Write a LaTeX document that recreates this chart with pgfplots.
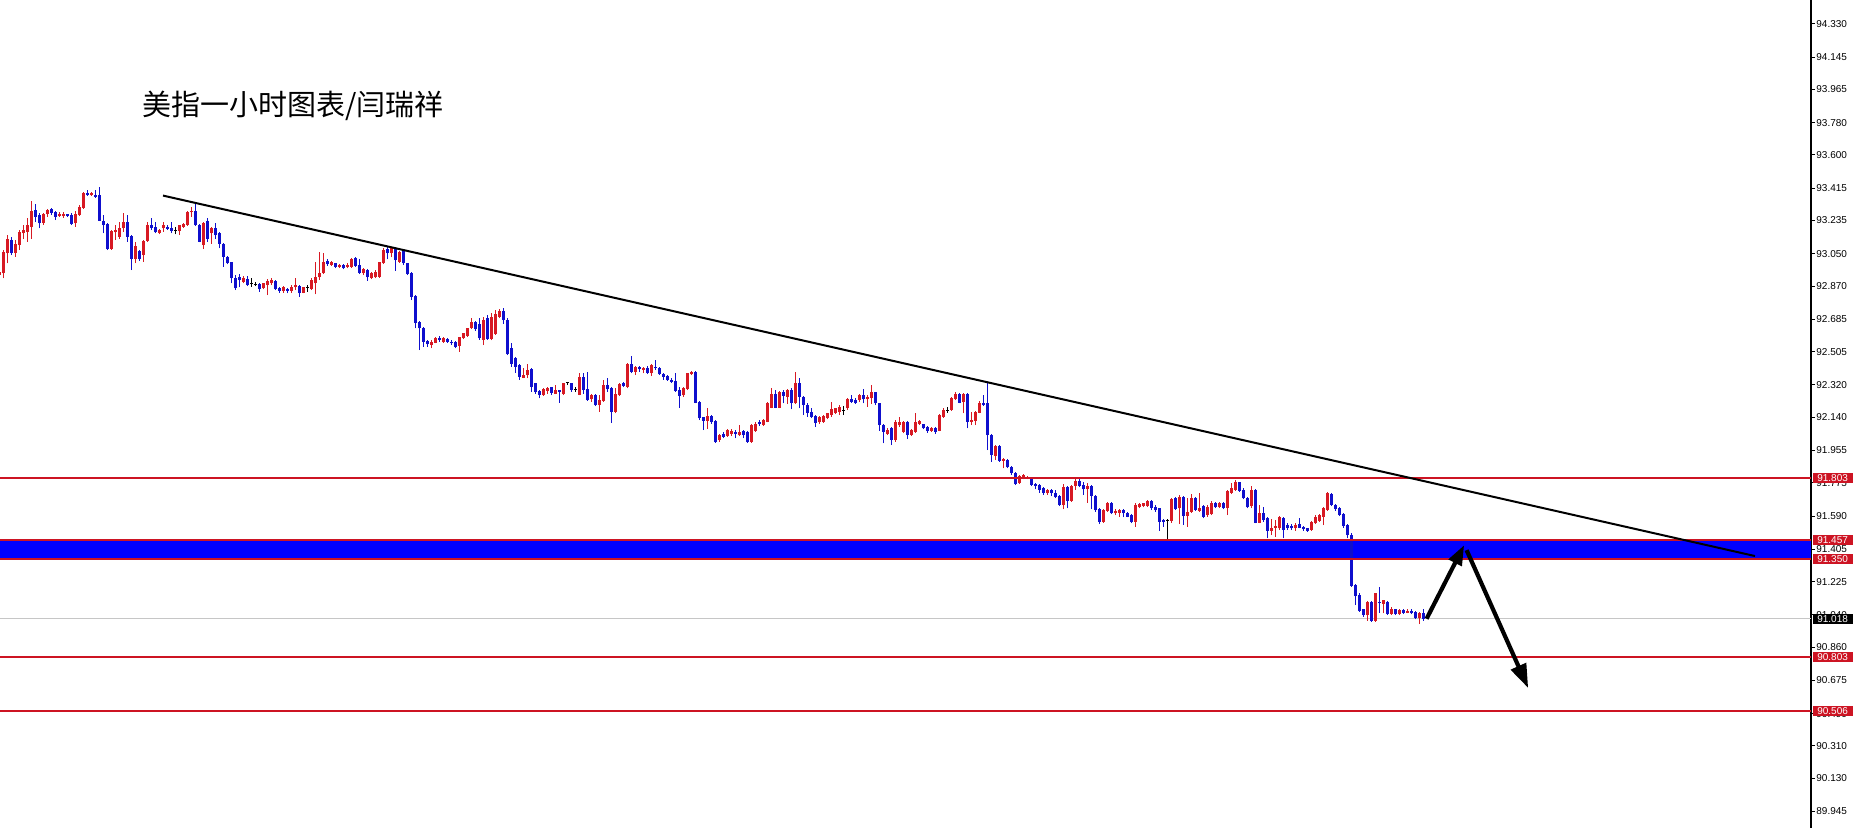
\documentclass[border=0pt]{standalone}
\usepackage{fontspec}
\setmainfont{Liberation Sans}
\newfontfamily\cjk{Noto Sans CJK SC}
\usepackage{pgfplots}
\pgfplotsset{compat=1.18}
\usepackage{pgfplotstable}
\usetikzlibrary{arrows.meta}
\definecolor{cred}{RGB}{215,25,35}
\definecolor{cblue}{RGB}{15,15,205}
\definecolor{lred}{RGB}{205,20,35}
\definecolor{band}{RGB}{0,0,255}
\pgfplotstableread{
i o h l c
0 92.931 92.959 92.913 92.950
1 92.941 93.070 92.913 93.061
2 93.052 93.154 92.996 93.135
3 93.126 93.145 93.043 93.052
4 93.057 93.126 93.033 93.107
5 93.098 93.182 93.070 93.173
6 93.163 93.210 93.135 93.182
7 93.173 93.247 93.117 93.210
8 93.200 93.343 93.135 93.288
9 93.293 93.325 93.228 93.256
10 93.265 93.275 93.191 93.219
11 93.223 93.275 93.213 93.269
12 93.269 93.302 93.256 93.293
13 93.297 93.306 93.265 93.278
14 93.284 93.288 93.237 93.256
15 93.260 93.280 93.254 93.273
16 93.258 93.280 93.250 93.273
17 93.269 93.273 93.254 93.262
18 93.265 93.275 93.210 93.215
19 93.219 93.288 93.200 93.269
20 93.265 93.321 93.262 93.312
21 93.306 93.395 93.302 93.391
22 93.386 93.404 93.373 93.377
23 93.377 93.395 93.373 93.386
24 93.380 93.404 93.362 93.367
25 93.377 93.423 93.232 93.234
26 93.234 93.265 93.163 93.210
27 93.215 93.219 93.070 93.076
28 93.076 93.182 93.072 93.176
29 93.169 93.210 93.126 93.182
30 93.145 93.228 93.135 93.191
31 93.191 93.275 93.173 93.228
32 93.228 93.265 93.117 93.145
33 93.148 93.154 92.959 93.020
34 93.020 93.117 92.996 93.095
35 93.065 93.070 93.009 93.020
36 93.043 93.126 93.005 93.121
37 93.121 93.228 93.117 93.210
38 93.210 93.247 93.182 93.191
39 93.200 93.228 93.163 93.169
40 93.165 93.187 93.158 93.182
41 93.191 93.228 93.173 93.210
42 93.198 93.210 93.182 93.187
43 93.195 93.228 93.163 93.178
44 93.180 93.200 93.158 93.180
45 93.176 93.213 93.154 93.210
46 93.200 93.221 93.195 93.217
47 93.210 93.288 93.206 93.284
48 93.280 93.312 93.256 93.288
49 93.288 93.330 93.206 93.210
50 93.213 93.217 93.113 93.117
51 93.098 93.228 93.076 93.219
52 93.232 93.247 93.117 93.135
53 93.163 93.200 93.107 93.195
54 93.195 93.219 93.135 93.154
55 93.163 93.169 93.080 93.107
56 93.107 93.111 92.978 93.033
57 93.033 93.037 92.991 92.996
58 93.002 93.005 92.885 92.913
59 92.913 92.931 92.848 92.857
60 92.918 92.937 92.863 92.904
61 92.894 92.926 92.885 92.913
62 92.909 92.926 92.870 92.876
63 92.885 92.913 92.866 92.885
64 92.881 92.894 92.870 92.881
65 92.879 92.885 92.839 92.852
66 92.857 92.889 92.852 92.885
67 92.876 92.907 92.820 92.900
68 92.885 92.913 92.876 92.904
69 92.900 92.904 92.848 92.852
70 92.857 92.863 92.833 92.844
71 92.844 92.870 92.833 92.863
72 92.853 92.857 92.829 92.844
73 92.844 92.876 92.833 92.866
74 92.863 92.913 92.848 92.876
75 92.870 92.876 92.811 92.829
76 92.833 92.866 92.829 92.863
77 92.863 92.876 92.839 92.863
78 92.852 92.913 92.848 92.904
79 92.885 93.006 92.824 92.918
80 92.918 93.061 92.904 92.944
81 92.941 93.052 92.937 93.006
82 93.009 93.019 92.983 92.991
83 92.987 93.011 92.982 93.004
84 92.996 93.000 92.969 92.978
85 92.974 92.993 92.969 92.987
86 92.987 92.991 92.963 92.969
87 92.974 92.996 92.969 92.987
88 92.978 93.024 92.972 93.020
89 93.024 93.033 92.978 92.982
90 92.987 93.019 92.937 92.944
91 92.941 92.969 92.931 92.963
92 92.959 92.963 92.900 92.918
93 92.913 92.950 92.907 92.944
94 92.918 92.959 92.913 92.950
95 92.922 93.006 92.917 93.002
96 92.996 93.080 92.993 93.071
97 93.074 93.089 93.019 93.052
98 93.052 93.089 93.030 93.080
99 93.080 93.089 92.956 93.015
100 93.006 93.067 93.000 93.061
101 93.071 93.074 92.987 92.996
102 92.996 93.000 92.931 92.937
103 92.944 92.950 92.792 92.811
104 92.814 92.820 92.634 92.666
105 92.672 92.677 92.514 92.634
106 92.638 92.644 92.532 92.560
107 92.562 92.569 92.532 92.547
108 92.542 92.569 92.523 92.560
109 92.555 92.588 92.551 92.579
110 92.579 92.592 92.560 92.569
111 92.560 92.588 92.555 92.579
112 92.573 92.579 92.555 92.560
113 92.560 92.569 92.542 92.551
114 92.558 92.562 92.523 92.532
115 92.536 92.588 92.504 92.584
116 92.579 92.610 92.573 92.607
117 92.592 92.638 92.588 92.634
118 92.634 92.690 92.629 92.672
119 92.672 92.677 92.622 92.629
120 92.660 92.690 92.570 92.579
121 92.570 92.700 92.541 92.680
122 92.690 92.710 92.570 92.573
123 92.573 92.720 92.568 92.700
124 92.606 92.735 92.598 92.715
125 92.700 92.745 92.690 92.730
126 92.730 92.750 92.660 92.680
127 92.680 92.690 92.486 92.490
128 92.523 92.551 92.421 92.439
129 92.467 92.475 92.387 92.421
130 92.430 92.434 92.350 92.365
131 92.361 92.412 92.356 92.374
132 92.374 92.439 92.356 92.402
133 92.406 92.412 92.282 92.309
134 92.328 92.332 92.272 92.282
135 92.285 92.291 92.245 92.263
136 92.263 92.300 92.259 92.296
137 92.287 92.306 92.272 92.300
138 92.306 92.309 92.263 92.276
139 92.272 92.319 92.269 92.291
140 92.291 92.293 92.220 92.282
141 92.269 92.332 92.263 92.328
142 92.332 92.337 92.319 92.332
143 92.328 92.332 92.282 92.291
144 92.296 92.309 92.282 92.296
145 92.263 92.384 92.261 92.365
146 92.365 92.384 92.272 92.291
147 92.295 92.393 92.232 92.235
148 92.239 92.272 92.226 92.263
149 92.263 92.272 92.202 92.207
150 92.207 92.263 92.170 92.235
151 92.232 92.347 92.226 92.319
152 92.319 92.356 92.282 92.295
153 92.300 92.309 92.109 92.170
154 92.170 92.300 92.161 92.272
155 92.263 92.328 92.258 92.324
156 92.332 92.337 92.306 92.313
157 92.309 92.443 92.300 92.439
158 92.439 92.480 92.384 92.393
159 92.393 92.425 92.374 92.417
160 92.417 92.425 92.393 92.406
161 92.402 92.417 92.384 92.412
162 92.415 92.425 92.380 92.387
163 92.384 92.434 92.369 92.430
164 92.421 92.458 92.402 92.412
165 92.412 92.417 92.374 92.378
166 92.378 92.384 92.350 92.365
167 92.369 92.374 92.343 92.347
168 92.350 92.356 92.332 92.337
169 92.343 92.387 92.282 92.287
170 92.291 92.306 92.194 92.258
171 92.263 92.306 92.254 92.300
172 92.295 92.387 92.291 92.384
173 92.380 92.399 92.374 92.393
174 92.393 92.397 92.217 92.220
175 92.226 92.230 92.124 92.133
176 92.139 92.143 92.068 92.120
177 92.120 92.189 92.077 92.146
178 92.146 92.150 92.105 92.115
179 92.118 92.124 91.998 92.003
180 92.013 92.046 92.003 92.040
181 92.046 92.059 92.022 92.031
182 92.035 92.072 92.031 92.068
183 92.046 92.072 92.035 92.065
184 92.059 92.068 92.022 92.046
185 92.040 92.096 92.035 92.059
186 92.061 92.068 92.022 92.040
187 92.059 92.065 91.998 92.003
188 92.003 92.100 91.998 92.096
189 92.063 92.115 92.059 92.105
190 92.115 92.124 92.092 92.100
191 92.096 92.128 92.091 92.124
192 92.115 92.226 92.111 92.220
193 92.194 92.300 92.189 92.272
194 92.272 92.291 92.189 92.194
195 92.194 92.285 92.189 92.282
196 92.278 92.291 92.217 92.259
197 92.254 92.295 92.213 92.291
198 92.291 92.300 92.183 92.217
199 92.217 92.393 92.213 92.328
200 92.332 92.361 92.189 92.254
201 92.254 92.258 92.152 92.207
202 92.207 92.217 92.142 92.165
203 92.170 92.189 92.133 92.142
204 92.146 92.152 92.087 92.109
205 92.113 92.146 92.105 92.142
206 92.115 92.152 92.109 92.146
207 92.133 92.165 92.128 92.161
208 92.152 92.226 92.142 92.183
209 92.165 92.194 92.157 92.189
210 92.170 92.207 92.152 92.198
211 92.180 92.202 92.152 92.180
212 92.189 92.245 92.180 92.239
213 92.239 92.263 92.220 92.226
214 92.235 92.245 92.213 92.217
215 92.235 92.267 92.226 92.263
216 92.263 92.295 92.217 92.239
217 92.239 92.263 92.198 92.254
218 92.245 92.319 92.213 92.278
219 92.278 92.282 92.207 92.217
220 92.217 92.220 92.065 92.096
221 92.096 92.105 91.994 92.059
222 92.046 92.078 92.040 92.068
223 92.078 92.087 91.985 92.013
224 92.013 92.124 92.003 92.115
225 92.096 92.142 92.087 92.115
226 92.059 92.118 92.050 92.115
227 92.115 92.118 92.018 92.040
228 92.040 92.072 92.035 92.068
229 92.059 92.161 92.053 92.115
230 92.105 92.124 92.096 92.118
231 92.102 92.105 92.072 92.078
232 92.087 92.091 92.053 92.065
233 92.065 92.083 92.059 92.078
234 92.078 92.087 92.046 92.059
235 92.065 92.157 92.061 92.152
236 92.142 92.189 92.137 92.180
237 92.180 92.198 92.165 92.180
238 92.180 92.250 92.176 92.245
239 92.239 92.278 92.235 92.272
240 92.272 92.276 92.217 92.220
241 92.226 92.276 92.161 92.272
242 92.269 92.273 92.078 92.115
243 92.115 92.171 92.096 92.124
244 92.121 92.176 92.096 92.171
245 92.165 92.232 92.161 92.221
246 92.221 92.263 92.202 92.208
247 92.217 92.338 91.957 92.041
248 92.041 92.046 91.892 91.929
249 91.924 91.985 91.902 91.980
250 91.980 91.985 91.892 91.898
251 91.898 91.911 91.855 91.905
252 91.902 91.905 91.855 91.861
253 91.861 91.868 91.818 91.827
254 91.831 91.837 91.762 91.768
255 91.772 91.818 91.768 91.812
256 91.800 91.822 91.794 91.816
257 91.798 91.812 91.794 91.809
258 91.805 91.809 91.757 91.762
259 91.768 91.772 91.738 91.757
260 91.762 91.768 91.720 91.735
261 91.744 91.749 91.707 91.720
262 91.716 91.738 91.707 91.735
263 91.735 91.742 91.701 91.716
264 91.716 91.735 91.688 91.694
265 91.701 91.707 91.645 91.651
266 91.651 91.768 91.627 91.749
267 91.749 91.757 91.632 91.675
268 91.675 91.762 91.670 91.757
269 91.757 91.794 91.735 91.786
270 91.786 91.800 91.749 91.757
271 91.762 91.781 91.707 91.738
272 91.738 91.772 91.664 91.757
273 91.757 91.762 91.627 91.701
274 91.701 91.707 91.614 91.623
275 91.627 91.632 91.545 91.558
276 91.558 91.627 91.553 91.623
277 91.619 91.670 91.614 91.664
278 91.664 91.670 91.601 91.605
279 91.605 91.627 91.595 91.619
280 91.608 91.627 91.586 91.623
281 91.623 91.627 91.582 91.605
282 91.608 91.614 91.582 91.586
283 91.595 91.601 91.549 91.558
284 91.558 91.664 91.530 91.651
285 91.638 91.660 91.632 91.657
286 91.645 91.664 91.638 91.660
287 91.645 91.679 91.642 91.675
288 91.675 91.679 91.623 91.632
289 91.642 91.651 91.614 91.623
290 91.632 91.636 91.508 91.558
291 91.567 91.571 91.530 91.558
292 91.567 91.571 91.460 91.567
293 91.564 91.688 91.553 91.683
294 91.688 91.697 91.623 91.627
295 91.632 91.707 91.545 91.694
296 91.694 91.701 91.540 91.590
297 91.590 91.688 91.530 91.614
298 91.614 91.712 91.608 91.688
299 91.688 91.694 91.619 91.623
300 91.619 91.720 91.614 91.632
301 91.645 91.651 91.577 91.586
302 91.595 91.651 91.586 91.638
303 91.601 91.675 91.595 91.664
304 91.660 91.669 91.632 91.638
305 91.638 91.669 91.632 91.664
306 91.660 91.669 91.627 91.632
307 91.632 91.734 91.595 91.731
308 91.719 91.771 91.712 91.744
309 91.734 91.790 91.731 91.781
310 91.777 91.781 91.725 91.731
311 91.734 91.744 91.682 91.688
312 91.693 91.697 91.632 91.638
313 91.645 91.757 91.632 91.734
314 91.734 91.738 91.549 91.552
315 91.552 91.651 91.549 91.608
316 91.608 91.638 91.558 91.567
317 91.577 91.582 91.465 91.508
318 91.508 91.571 91.484 91.526
319 91.526 91.567 91.474 91.534
320 91.521 91.589 91.512 91.582
321 91.577 91.582 91.465 91.512
322 91.539 91.549 91.512 91.526
323 91.534 91.545 91.512 91.521
324 91.521 91.549 91.508 91.541
325 91.545 91.577 91.521 91.526
326 91.530 91.534 91.508 91.515
327 91.521 91.526 91.502 91.508
328 91.512 91.564 91.508 91.558
329 91.549 91.595 91.545 91.582
330 91.564 91.601 91.558 91.595
331 91.586 91.641 91.539 91.632
332 91.623 91.725 91.619 91.719
333 91.712 91.719 91.645 91.651
334 91.651 91.656 91.619 91.627
335 91.632 91.638 91.589 91.595
336 91.601 91.608 91.526 91.534
337 91.539 91.545 91.465 91.484
338 91.484 91.493 91.196 91.200
339 91.205 91.211 91.094 91.144
340 91.150 91.159 91.057 91.062
341 91.070 91.075 91.029 91.038
342 91.038 91.116 91.007 91.113
343 91.113 91.116 91.001 91.007
344 91.007 91.163 91.001 91.159
345 91.113 91.196 91.051 91.103
346 91.100 91.125 91.048 91.122
347 91.113 91.116 91.038 91.044
348 91.044 91.081 91.038 91.075
349 91.070 91.075 91.038 91.042
350 91.044 91.075 91.038 91.066
351 91.066 91.075 91.044 91.051
352 91.051 91.070 91.048 91.062
353 91.062 91.070 91.042 91.048
354 91.057 91.062 91.014 91.020
355 91.020 91.057 90.988 91.051
356 91.051 91.070 91.007 91.018
}\candles
\pgfplotsset{
  candlepart/.style n args={2}{draw=none, mark=none, forget plot,
    error bars/.cd, y dir=plus, y explicit, error mark=none,
    error bar style={draw=#1, solid, line width=#2}},
}
\begin{document}
\begin{tikzpicture}
\useasboundingbox (0,0) rectangle (927pt,414pt);
\begin{axis}[
  at={(0,0)}, anchor=south west,
  scale only axis, width=905.5pt, height=414pt,
  xmin=0.17, xmax=452.9, ymin=89.853, ymax=94.463,
  axis x line=none, axis y line*=right,
  axis line style={black, line width=0.6pt},
  clip=false,
  tick align=outside, major tick length=2pt,
  ytick style={black, line width=0.5pt},
  ytick={94.330,94.145,93.965,93.780,93.600,93.415,93.235,93.050,92.870,92.685,92.505,92.320,92.140,91.955,91.775,91.590,91.405,91.225,91.040,90.860,90.675,90.490,90.310,90.130,89.945},
  yticklabels={94.330,94.145,93.965,93.780,93.600,93.415,93.235,93.050,92.870,92.685,92.505,92.320,92.140,91.955,91.775,91.590,91.405,91.225,91.040,90.860,90.675,90.490,90.310,90.130,89.945},
  yticklabel style={font=\fontsize{5}{6}\selectfont, anchor=west, inner sep=0pt, xshift=0.5pt},
]
% support band
\addplot[fill=band, draw=none] coordinates {(0.17,91.350) (452.9,91.350) (452.9,91.457) (0.17,91.457)} -- cycle;
% bid line
\addplot[gray!45, line width=0.4pt] coordinates {(0.17,91.018) (452.9,91.018)};
% wicks
\addplot[restrict expr to domain={\thisrow{c}-\thisrow{o}}{0.0001:10}, candlepart={cred}{0.5pt}]
  table[x=i, y=l, y error plus expr=\thisrow{h}-\thisrow{l}] {\candles};
\addplot[restrict expr to domain={\thisrow{o}-\thisrow{c}}{0.0001:10}, candlepart={cblue}{0.5pt}]
  table[x=i, y=l, y error plus expr=\thisrow{h}-\thisrow{l}] {\candles};
\addplot[restrict expr to domain={\thisrow{c}-\thisrow{o}}{-0.0001:0.0001}, candlepart={black}{0.5pt}]
  table[x=i, y=l, y error plus expr=\thisrow{h}-\thisrow{l}] {\candles};
% bodies
\addplot[restrict expr to domain={\thisrow{c}-\thisrow{o}}{0.0001:10}, candlepart={cred}{1.5pt}]
  table[x=i, y=o, y error plus expr=\thisrow{c}-\thisrow{o}] {\candles};
\addplot[restrict expr to domain={\thisrow{o}-\thisrow{c}}{0.0001:10}, candlepart={cblue}{1.5pt}]
  table[x=i, y=c, y error plus expr=\thisrow{o}-\thisrow{c}] {\candles};
\addplot[restrict expr to domain={\thisrow{c}-\thisrow{o}}{-0.0001:0.0001}, only marks, mark=-, mark size=0.8pt, black, mark options={line width=0.5pt}]
  table[x=i, y=o] {\candles};
% horizontal levels
\addplot[lred, line width=1pt] coordinates {(0.17,91.803) (452.9,91.803)};
\addplot[lred, line width=1pt] coordinates {(0.17,91.457) (452.9,91.457)};
\addplot[lred, line width=1pt] coordinates {(0.17,91.350) (452.9,91.350)};
\addplot[lred, line width=1pt] coordinates {(0.17,90.803) (452.9,90.803)};
\addplot[lred, line width=1pt] coordinates {(0.17,90.506) (452.9,90.506)};
% trend line
\addplot[black, line width=1pt] coordinates {(40.92,93.374) (438.9,91.367)};
% arrows
\addplot[black, line width=2.1pt, -{Triangle[length=10pt,width=7pt]}] coordinates {(356.8,91.018) (366.2,91.428)};
\addplot[black, line width=2.1pt, -{Triangle[length=12pt,width=8pt]}] coordinates {(366.8,91.400) (382.2,90.632)};
% price tags
\begin{scope}[every node/.style={anchor=west, inner sep=0pt, minimum width=20pt, minimum height=5pt, font=\fontsize{5}{6}\selectfont, text=white, xshift=0.6pt}]
\node[fill=lred] at (axis cs:452.9,91.803) {91.803};
\node[fill=lred] at (axis cs:452.9,91.457) {91.457};
\node[fill=lred] at (axis cs:452.9,91.350) {91.350};
\node[fill=black] at (axis cs:452.9,91.018) {91.018};
\node[fill=lred] at (axis cs:452.9,90.803) {90.803};
\node[fill=lred] at (axis cs:452.9,90.506) {90.506};
\end{scope}
\node[font=\cjk\fontsize{14.5}{17}\selectfont] at (axis cs:73.4,93.873) {美指一小时图表/闫瑞祥};
\end{axis}
\end{tikzpicture}
\end{document}
